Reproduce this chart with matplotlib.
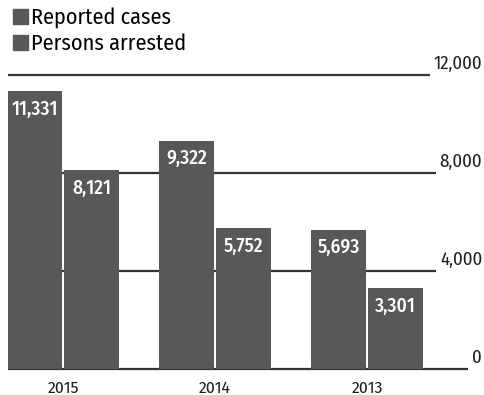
import matplotlib
matplotlib.use("Agg")
import matplotlib.pyplot as plt
from matplotlib.patches import Patch
import numpy as np

years = ["2015", "2014", "2013"]
reported = [11331, 9322, 5693]
arrested = [8121, 5752, 3301]
yticks = [0, 4000, 8000, 12000]
series_names = ["Reported cases", "Persons arrested"]

plt.rcParams['font.family'] = ['Fira Sans Condensed', 'DejaVu Sans']
bar_color = "#585858"
line_color = "#333333"
text_color = "#1e1e1e"

fig = plt.figure(figsize=(4.85, 3.95), dpi=100)
ax = fig.add_axes([8 / 485, 1 - 369 / 395, 477 / 485, (369 - 75) / 395])

x = np.arange(len(years))
w = 0.36
off = w / 2 + 0.008
b1 = ax.bar(x - off, reported, w, color=bar_color, zorder=3)
b2 = ax.bar(x + off, arrested, w, color=bar_color, zorder=3)

ax.set_xlim(-0.362, 2.776)
ax.set_ylim(0, 12000)
for s in ax.spines.values():
    s.set_visible(False)
ax.set_xticks([])
ax.set_yticks([])

# value labels inside the bars
for bars, vals in [(b1, reported), (b2, arrested)]:
    for b, v in zip(bars, vals):
        ax.annotate(f"{v:,}", (b.get_x() + b.get_width() / 2, v),
                    xytext=(0, -6), textcoords="offset points",
                    ha="center", va="top", color="white",
                    fontsize=14, fontweight="medium", zorder=5)

# year labels
for xi, yr in zip(x, years):
    ax.annotate(yr, (xi, 0), xytext=(0, -8), textcoords="offset points",
                ha="center", va="top", fontsize=12.5, color=text_color,
                annotation_clip=False)

# right-side axis labels, lines stop just short of them
labels = []
for t in yticks:
    lab = ax.annotate(f"{t:,}", (1.0, t), xycoords=("axes fraction", "data"),
                      xytext=(-2, 2), textcoords="offset points",
                      ha="right", va="bottom", fontsize=13.5, color=text_color,
                      annotation_clip=False)
    labels.append(lab)

fig.canvas.draw()
inv = ax.transData.inverted()
for t, lab in zip(yticks, labels):
    bb = lab.get_window_extent()
    xend = inv.transform((bb.x0 - 4, 0))[0]
    ax.plot([-0.362, xend], [t, t], color=line_color, lw=1.6, zorder=2,
            solid_capstyle="butt", clip_on=False)

handles = [Patch(color=bar_color) for _ in series_names]
fig.legend(handles, series_names, loc="upper left", bbox_to_anchor=(0.0, 1.015),
           frameon=False, fontsize=16, handlelength=0.65, handleheight=0.65,
           handletextpad=0.15, labelspacing=0.2, borderaxespad=0.2)

fig.savefig("out.png", dpi=100, facecolor="white")
